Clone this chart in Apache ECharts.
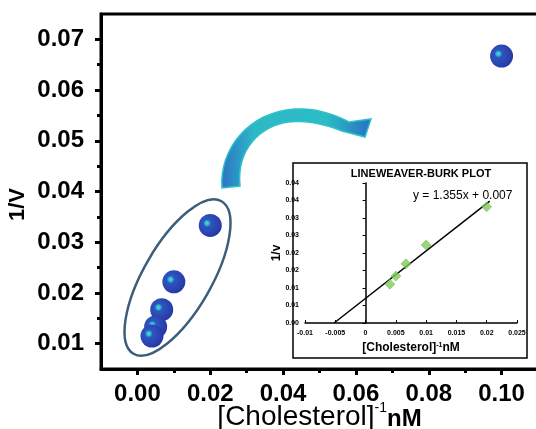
<!DOCTYPE html>
<html>
<head>
<meta charset="utf-8">
<title>Lineweaver-Burk</title>
<script src="https://cdn.jsdelivr.net/npm/echarts@6/dist/echarts.min.js"></script>
<style>
  html, body { margin: 0; padding: 0; background: #fff; }
  #chart { width: 536px; height: 429px; }
</style>
</head>
<body>
<div id="chart"></div>
<script>
// main plot: 1/[S] vs 1/V
const mainX = [0.1, 0.02, 0.01, 0.00667, 0.005, 0.004];
const mainY = [0.0667, 0.0333, 0.0222, 0.0167, 0.0133, 0.0115];
const xMajorTicks = [0, 0.02, 0.04, 0.06, 0.08, 0.1];
const xMajorLabels = ['0.00', '0.02', '0.04', '0.06', '0.08', '0.10'];
const xMinorTicks = [0.01, 0.03, 0.05, 0.07, 0.09];
const yMajorTicks = [0.01, 0.02, 0.03, 0.04, 0.05, 0.06, 0.07];
const yMajorLabels = ['0.01', '0.02', '0.03', '0.04', '0.05', '0.06', '0.07'];
const yMinorTicks = [0.015, 0.025, 0.035, 0.045, 0.055, 0.065];

// inset (excel plot)
const insetX = [0.004, 0.005, 0.00667, 0.01, 0.02];
const insetY = [0.0111, 0.0134, 0.0169, 0.0223, 0.0332];
const trendX = [-0.0052, 0.0205];
const trendY = [0, 0.0348];
const insetXLabels = ['-0.01', '-0.005', '0', '0.005', '0.01', '0.015', '0.02', '0.025'];
const insetYLabels = ['0.00', '0.01', '0.01', '0.02', '0.02', '0.03', '0.03', '0.04', '0.04'];

const FONT = "'Liberation Sans', Arial, sans-serif";

const pick = (vals, labels) => v => {
  const i = vals.findIndex(t => Math.abs(t - v) < 1e-9);
  return i < 0 ? '' : labels[i];
};

// sample cubic bezier segments into polygon points (for the curved arrow)
function bez(p0, p1, p2, p3, n) {
  const out = [];
  for (let k = 1; k <= n; k++) {
    const t = k / n, u = 1 - t;
    out.push([
      u * u * u * p0[0] + 3 * u * u * t * p1[0] + 3 * u * t * t * p2[0] + t * t * t * p3[0],
      u * u * u * p0[1] + 3 * u * u * t * p1[1] + 3 * u * t * t * p2[1] + t * t * t * p3[1],
    ]);
  }
  return out;
}

const arrowPts = [[222, 188]]
  .concat(bez([222, 188], [219, 150], [248, 112], [295, 109], 16))
  .concat(bez([295, 109], [315, 108], [334, 114], [349, 122], 8))
  .concat([[371, 119], [365, 137], [342, 131]])
  .concat(bez([342, 131], [325, 124], [305, 120], [288, 122], 8))
  .concat(bez([288, 122], [260, 126], [236, 150], [240, 186], 16));

const sphere = {
  type: 'radial', x: 0.36, y: 0.4, r: 0.75,
  colorStops: [
    { offset: 0, color: '#48dcd6' },
    { offset: 0.12, color: '#34b6d0' },
    { offset: 0.22, color: '#2d56bf' },
    { offset: 0.6, color: '#2b44b2' },
    { offset: 1, color: '#22329a' },
  ],
};

const chart = echarts.init(document.getElementById('chart'), null, { renderer: 'canvas' });

const option = {
  backgroundColor: '#fff',
  animation: false,
  textStyle: { fontFamily: FONT },
  grid: [
    {
      left: 101, right: -2, top: 14, bottom: 60,
      show: true, borderColor: '#000', borderWidth: 3,
      outerBoundsMode: 'none',
    },
    {
      left: 305, right: 19, top: 183, bottom: 106,
      outerBoundsMode: 'none',
    },
  ],
  xAxis: [
    {
      gridIndex: 0, type: 'value', min: -0.01, max: 0.11, interval: 0.01,
      axisLine: { onZero: false, lineStyle: { color: '#000', width: 3 } },
      axisTick: { customValues: xMajorTicks, length: 6, lineStyle: { color: '#000', width: 3 } },
      axisLabel: {
        customValues: xMajorTicks, formatter: pick(xMajorTicks, xMajorLabels),
        margin: 13, color: '#000', fontSize: 24, fontWeight: 'bold', fontFamily: FONT,
      },
      splitLine: { show: false },
      name: '{a|[Cholesterol]}{s|-1}{b|nM}',
      nameLocation: 'middle',
      nameGap: 32,
      nameMoveOverlap: false,
      nameTextStyle: {
        rich: {
          a: { fontSize: 28, fontFamily: FONT, color: '#000', lineHeight: 30, verticalAlign: 'bottom' },
          s: { fontSize: 14, fontFamily: FONT, color: '#000', lineHeight: 30, verticalAlign: 'top' },
          b: { fontSize: 24, fontWeight: 'bold', fontFamily: FONT, color: '#000', lineHeight: 30, verticalAlign: 'bottom' },
        },
      },
    },
    {
      gridIndex: 0, type: 'value', position: 'bottom', min: -0.01, max: 0.11, interval: 0.01,
      axisLine: { show: false, onZero: false },
      axisTick: { customValues: xMinorTicks, length: 4, lineStyle: { color: '#000', width: 3 } },
      axisLabel: { show: false },
      splitLine: { show: false },
    },
    {
      gridIndex: 1, type: 'value', min: -0.01, max: 0.025, interval: 0.005,
      axisLine: { lineStyle: { color: '#000', width: 1.5 } },
      axisTick: { inside: true, length: 3, lineStyle: { color: '#000', width: 1 } },
      axisLabel: {
        formatter: (v, i) => insetXLabels[i],
        margin: 7, color: '#000', fontSize: 7, fontWeight: 'bold', fontFamily: FONT,
      },
      splitLine: { show: false },
      name: '[Cholesterol]{s|-1}nM',
      nameLocation: 'middle',
      nameGap: 19,
      nameMoveOverlap: false,
      nameTextStyle: {
        fontSize: 12, fontWeight: 'bold', color: '#000', fontFamily: FONT,
        rich: { s: { fontSize: 7, fontWeight: 'bold', verticalAlign: 'top', color: '#000' } },
      },
    },
  ],
  yAxis: [
    {
      gridIndex: 0, type: 'value', min: 0.005, max: 0.075, interval: 0.005,
      axisLine: { onZero: false, lineStyle: { color: '#000', width: 3 } },
      axisTick: { customValues: yMajorTicks, length: 6, lineStyle: { color: '#000', width: 3 } },
      axisLabel: {
        customValues: yMajorTicks, formatter: pick(yMajorTicks, yMajorLabels),
        margin: 17, color: '#000', fontSize: 24, fontWeight: 'bold', fontFamily: FONT,
      },
      splitLine: { show: false },
      name: '1/V',
      nameLocation: 'middle',
      nameGap: 72,
      nameMoveOverlap: false,
      nameTextStyle: { fontSize: 22, fontWeight: 'bold', color: '#000', fontFamily: FONT, padding: [0, 26, 0, 0] },
    },
    {
      gridIndex: 0, type: 'value', position: 'left', min: 0.005, max: 0.075, interval: 0.005,
      axisLine: { show: false, onZero: false },
      axisTick: { customValues: yMinorTicks, length: 4, lineStyle: { color: '#000', width: 3 } },
      axisLabel: { show: false },
      splitLine: { show: false },
    },
    {
      gridIndex: 1, type: 'value', min: 0, max: 0.04, interval: 0.005,
      axisLine: { onZero: true, lineStyle: { color: '#000', width: 1.5 } },
      axisTick: { length: 3, lineStyle: { color: '#000', width: 1 } },
      axisLabel: {
        formatter: (v, i) => insetYLabels[i],
        margin: 6, color: '#000', fontSize: 7, fontWeight: 'bold', fontFamily: FONT,
      },
      splitLine: { show: false },
      name: '1/v',
      nameLocation: 'middle',
      nameGap: 22,
      nameMoveOverlap: false,
      nameTextStyle: { fontSize: 12, fontWeight: 'bold', color: '#000', fontFamily: FONT },
    },
  ],
  series: [
    {
      type: 'scatter',
      xAxisIndex: 0, yAxisIndex: 0,
      symbol: 'circle', symbolSize: 23,
      itemStyle: { color: sphere, opacity: 1 },
      data: mainX.map((x, i) => [x, mainY[i]]),
      z: 5,
    },
    {
      type: 'line',
      xAxisIndex: 2, yAxisIndex: 2,
      showSymbol: false,
      lineStyle: { color: '#000', width: 1.5 },
      data: trendX.map((x, i) => [x, trendY[i]]),
      z: 3,
    },
    {
      type: 'scatter',
      xAxisIndex: 2, yAxisIndex: 2,
      symbol: 'diamond', symbolSize: 10,
      itemStyle: { color: '#80cc5a', borderColor: '#5aa83a', borderWidth: 0.5 },
      data: insetX.map((x, i) => [x, insetY[i]]),
      z: 4,
    },
  ],
  graphic: [
    {
      type: 'ellipse',
      x: 177.5, y: 277.5,
      rotation: 60 * Math.PI / 180,
      shape: { cx: 0, cy: 0, rx: 88, ry: 34 },
      style: { fill: 'none', stroke: '#3d5d7c', lineWidth: 2.5 },
      z: 2,
    },
    {
      type: 'polygon',
      shape: { points: arrowPts },
      style: {
        fill: {
          type: 'linear', x: 0, y: 0, x2: 1, y2: 0,
          colorStops: [
            { offset: 0, color: '#2f72c4' },
            { offset: 0.22, color: '#2cb9c6' },
            { offset: 0.7, color: '#2bbcc6' },
            { offset: 1, color: '#2b6ec2' },
          ],
        },
        stroke: '#2cc2c9', lineWidth: 1.5,
      },
      z: 2,
    },
    {
      type: 'rect',
      shape: { x: 293, y: 163, width: 234, height: 195 },
      style: { fill: 'none', stroke: '#000', lineWidth: 1.5 },
      z: 1,
    },
    {
      type: 'text',
      x: 421, y: 174,
      style: { text: 'LINEWEAVER-BURK PLOT', font: 'bold 11px ' + FONT, fill: '#000', align: 'center', verticalAlign: 'middle' },
      z: 5,
    },
    {
      type: 'text',
      x: 413, y: 196,
      style: { text: 'y = 1.355x + 0.007', font: '12px ' + FONT, fill: '#000', align: 'left', verticalAlign: 'middle' },
      z: 5,
    },
  ],
};

chart.setOption(option);
</script>
</body>
</html>
